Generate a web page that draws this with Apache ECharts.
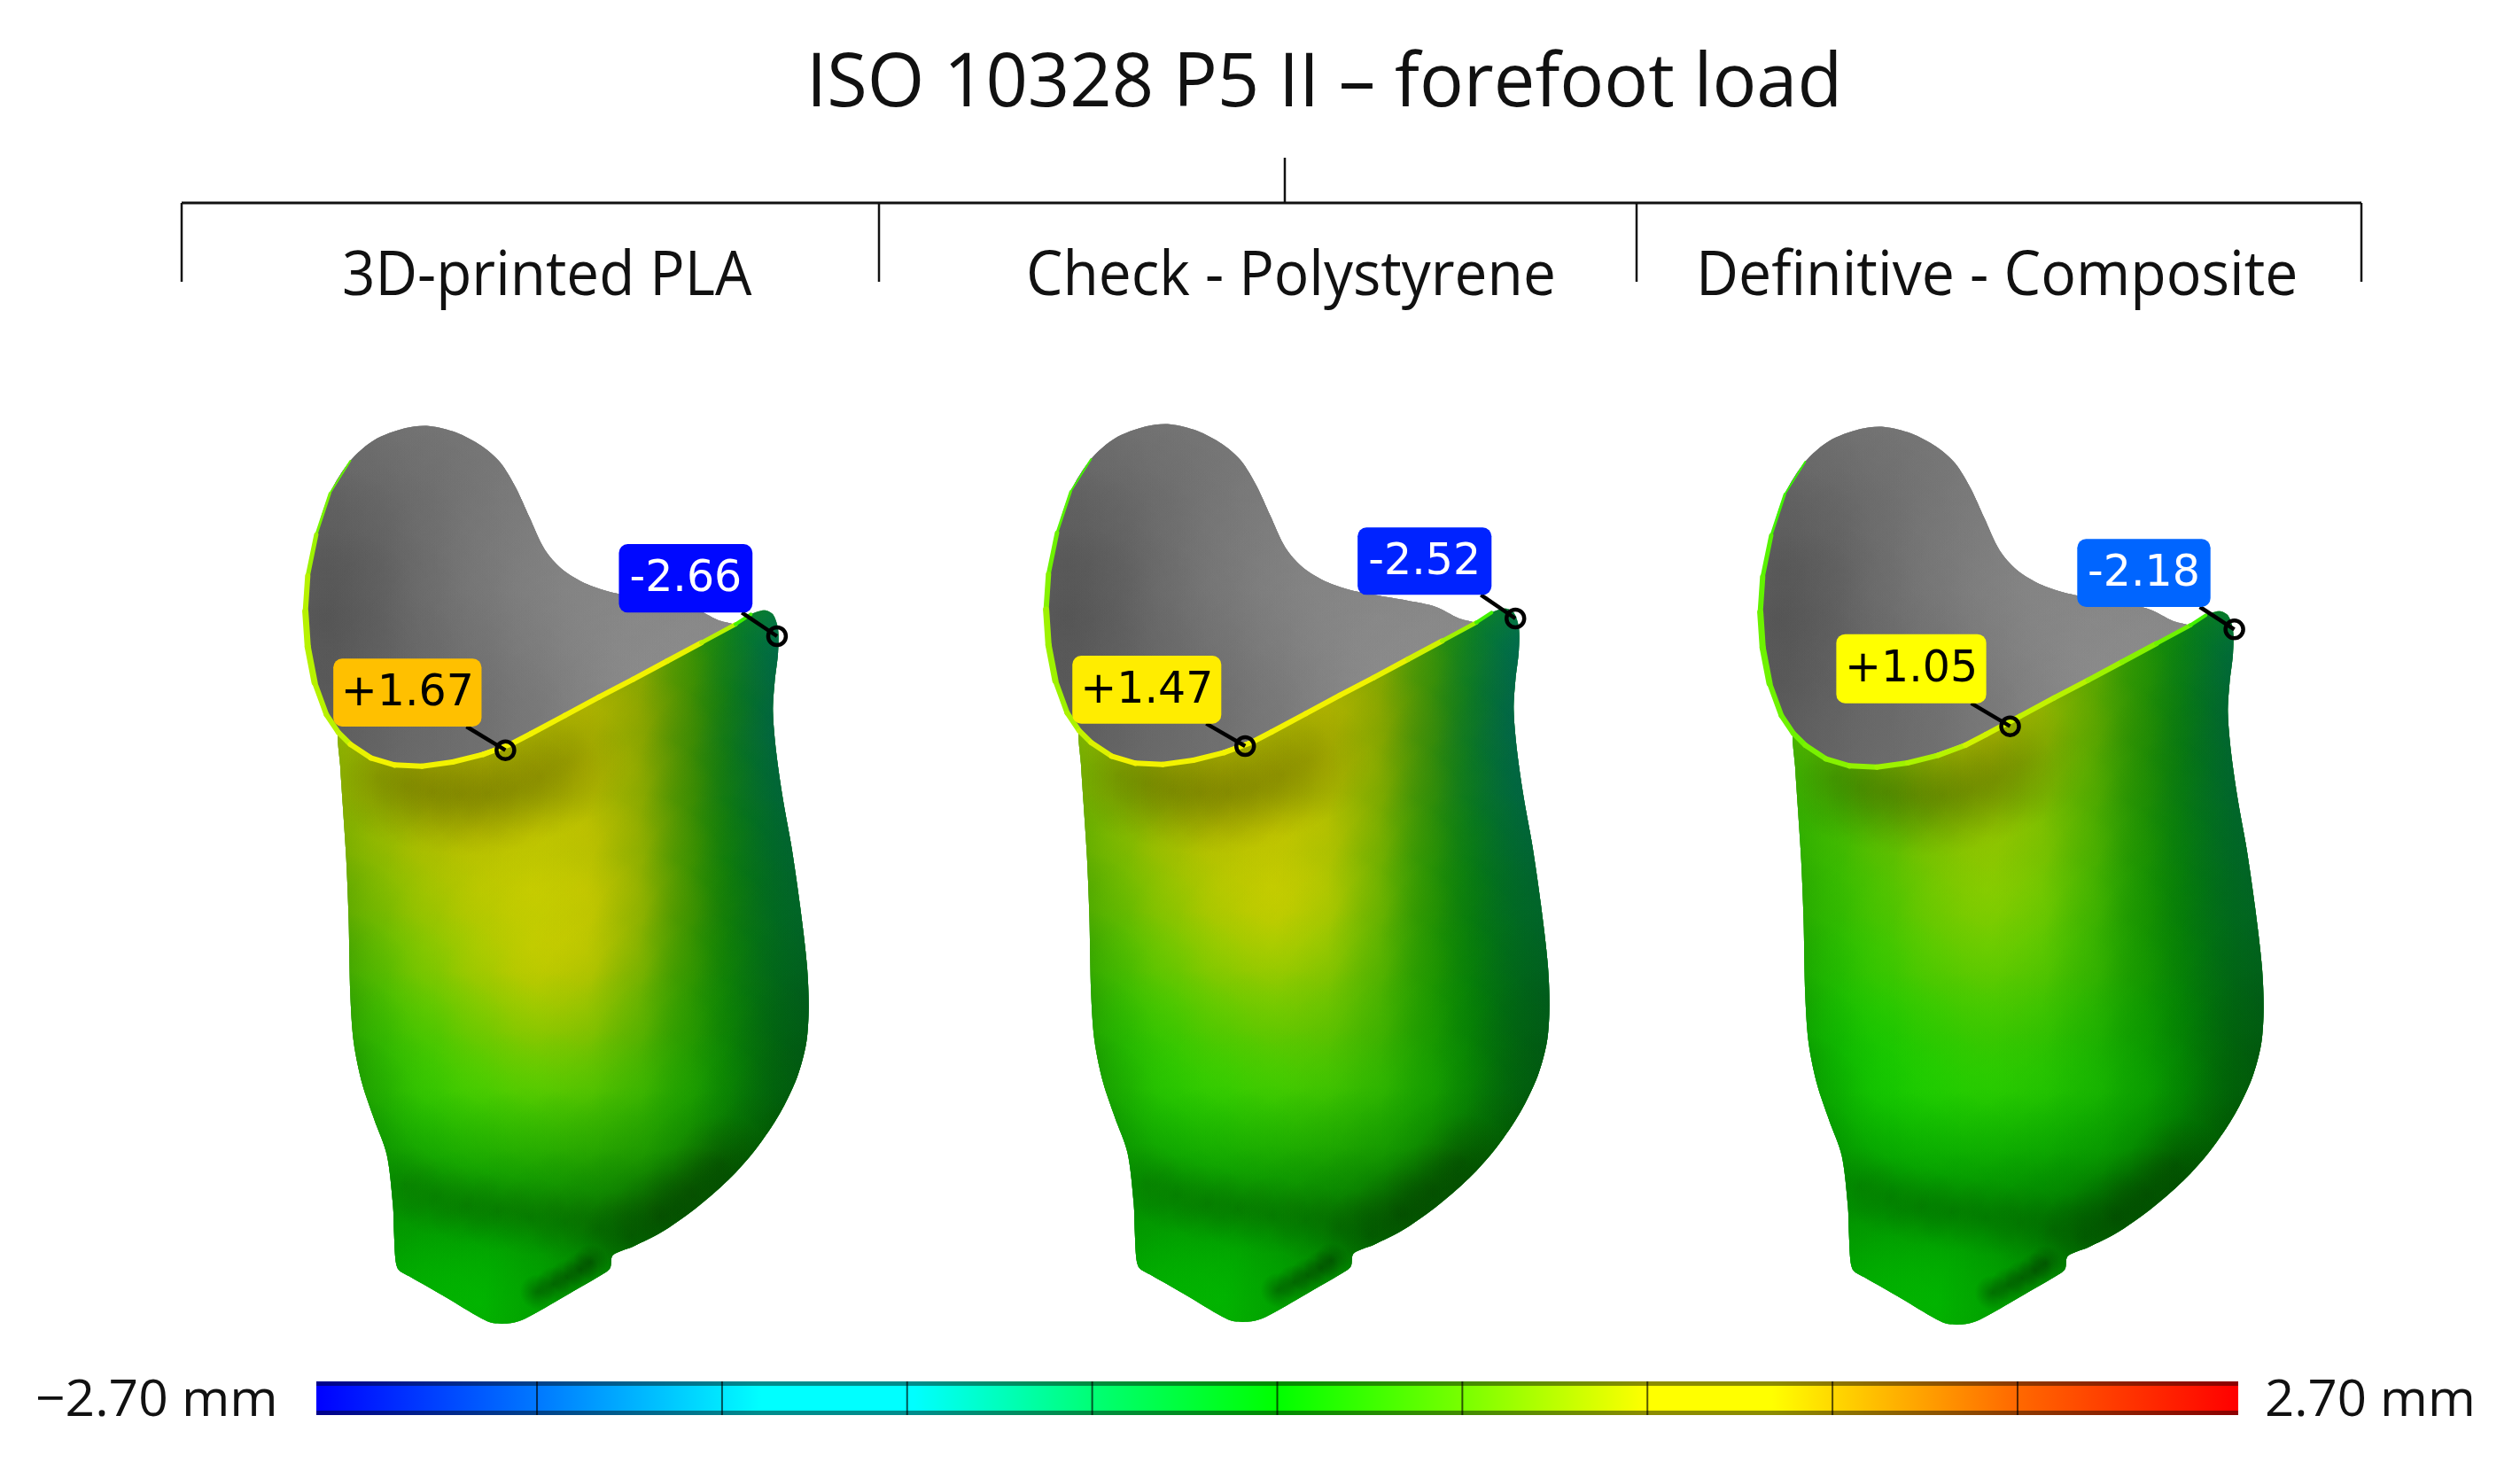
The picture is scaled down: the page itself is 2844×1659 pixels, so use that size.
<!DOCTYPE html>
<html>
<head>
<meta charset="utf-8">
<title>ISO 10328 P5 II - forefoot load</title>
<script src="https://cdn.jsdelivr.net/npm/echarts@6/dist/echarts.min.js"></script>
<style>
  html, body { margin: 0; padding: 0; background: #fff; }
  #main { width: 2844px; height: 1659px; }
</style>
</head>
<body>
<div id="main"></div>
<script>
// texts
var chartTitle = 'ISO 10328 P5 II – forefoot load';
var modelNames = ['3D-printed PLA', 'Check - Polystyrene', 'Definitive - Composite'];
var barMinText = '−2.70 mm';
var barMaxText = '2.70 mm';

// deviation scale, mm -> colour
var rampValues = [-2.7, -2.08, -1.45, -1.02, -0.5, 0, 0.52, 1.04, 1.39, 1.67, 2.07, 2.7];
var rampColors = ['#0000ff', '#0078ff', '#00ffff', '#00ffff', '#00ff70', '#00ff00', '#78ff00', '#ffff00', '#ffff00', '#ffc000', '#ff6a00', '#ff0000'];
var barTicks = [-2.08, -1.56, -1.04, -0.52, 0, 0.52, 1.04, 1.56, 2.08];

// socket shape, in the model axis units (0-1560 both ways)
var bodyOutline = [[135,535],[170,555],[230,578],[300,590],[380,592],[470,585],[560,572],[640,555],[700,537],[800,506],[900,475],[1000,445],[1100,414],[1200,383],[1300,352],[1345,335],[1385,328],[1410,335],[1425,360],[1425,400],[1415,450],[1410,500],[1420,570],[1440,650],[1465,730],[1490,830],[1510,930],[1515,1000],[1508,1060],[1480,1120],[1430,1180],[1360,1240],[1280,1292],[1180,1342],[1080,1382],[1000,1405],[940,1420],[932,1442],[905,1454],[800,1489],[684,1527],[641,1535],[590,1535],[555,1527],[450,1491],[347,1457],[312,1445],[303,1430],[298,1380],[295,1335],[277,1250],[240,1190],[205,1130],[180,1060],[170,980],[165,850],[158,750],[148,660],[140,590]];
var cupOutline = [[135,535],[100,505],[65,450],[45,390],[38,330],[45,270],[70,200],[110,130],[170,75],[240,40],[330,20],[400,16],[480,27],[555,50],[610,78],[655,120],[695,170],[740,225],[790,258],[850,280],[920,295],[1000,305],[1100,315],[1180,325],[1250,345],[1300,355],[1200,388],[800,512],[400,595],[250,585]];
var rimLine = [[170,75],[110,130],[70,200],[45,270],[38,330],[45,390],[65,450],[100,505],[135,535],[170,555],[230,578],[300,590],[380,592],[470,585],[560,572],[640,555],[700,537],[800,506],[900,475],[1000,445],[1100,414],[1200,383],[1300,352],[1345,335]];
var rimWidths = [2,3,5,6,7,7,6,6,6,6,6,6,6,6,6,6,6,6,6,6,6,5,4];

// sample positions of the surface readings
var sampleX = [100, 250, 400, 550, 700, 850, 1000, 1150, 1300, 1450, 1550];
var sampleY = [400, 500, 600, 700, 800, 900, 1000, 1100, 1200, 1300, 1400, 1500];
var cupY = [50, 150, 250, 350, 450, 550];

// deviation per model, mm
var devPLA = [
  [.8,.9,.9,1.0,1.0,1.0,.9,.6,-.1,-.9,-1],
  [.8,.9,1.05,1.2,1.25,1.2,1.05,.75,-.05,-.7,-1],
  [.85,.95,1.2,1.35,1.4,1.3,1.1,.7,-.1,-.7,-1],
  [.8,.9,1.05,1.2,1.2,1.15,1.05,.65,-.05,-.55,-.8],
  [.65,.75,.95,1.05,1.15,1.2,1.1,.65,0,-.4,-.7],
  [.5,.6,.8,.95,1.15,1.25,1.05,.6,.05,-.3,-.6],
  [.3,.4,.6,.8,1.0,1.05,.85,.45,.05,-.25,-.5],
  [.2,.25,.35,.5,.7,.75,.6,.35,.05,-.15,-.4],
  [.1,.2,.25,.35,.4,.45,.4,.25,.05,-.1,-.3],
  [0,.05,.1,.15,.2,.22,.22,.15,.05,0,0],
  [0,0,0,0,.02,.05,.05,.03,0,0,0],
  [0,0,0,0,0,0,0,0,0,0,0]
];
var devCheck = [
  [.8,.9,.95,1.0,1.0,1.0,.9,.6,-.2,-.9,-1.1],
  [.75,.85,1.0,1.1,1.15,1.2,1.15,.65,-.2,-.8,-1.1],
  [.7,.85,1.05,1.2,1.3,1.3,1.1,.6,-.25,-.8,-1.1],
  [.65,.75,.95,1.1,1.2,1.2,.95,.5,-.2,-.65,-.9],
  [.5,.65,.85,1.05,1.15,1.15,.85,.4,-.1,-.45,-.75],
  [.4,.5,.7,.9,1.05,1.0,.75,.35,-.05,-.35,-.6],
  [.25,.3,.5,.65,.8,.75,.6,.3,0,-.25,-.5],
  [.15,.2,.25,.4,.5,.55,.45,.25,0,-.15,-.4],
  [.1,.15,.2,.25,.3,.35,.3,.2,.05,-.1,-.3],
  [0,.03,.08,.1,.15,.15,.15,.1,.05,0,0],
  [0,0,0,0,.02,.03,.03,.02,0,0,0],
  [0,0,0,0,0,0,0,0,0,0,0]
];
var devComposite = [
  [.5,.6,.6,.7,.8,.8,.6,.35,-.1,-.6,-.9],
  [.5,.55,.7,.9,1.0,1.0,.75,.4,-.1,-.55,-.9],
  [.4,.5,.75,.95,1.05,.95,.7,.35,-.1,-.5,-.8],
  [.3,.35,.55,.75,.85,.8,.6,.3,-.1,-.45,-.7],
  [.25,.3,.45,.65,.8,.75,.55,.25,-.05,-.35,-.6],
  [.2,.25,.35,.55,.7,.65,.45,.2,0,-.3,-.5],
  [.1,.15,.25,.4,.5,.5,.35,.2,0,-.2,-.4],
  [.05,.08,.1,.2,.3,.3,.2,.1,0,-.1,-.3],
  [0,.05,.1,.15,.2,.2,.15,.1,0,-.05,-.2],
  [0,0,.03,.03,.05,.05,.03,.03,0,0,0],
  [0,0,0,0,0,0,0,0,0,0,0],
  [0,0,0,0,0,0,0,0,0,0,0]
];
// surface lighting, same for all three
var lighting = [
  [.8,.8,.8,.8,.8,.75,.7,.65,.5,.42,.4],
  [.75,.75,.75,.72,.72,.7,.68,.6,.48,.4,.35],
  [.72,.72,.7,.7,.72,.72,.7,.58,.46,.4,.35],
  [.68,.74,.74,.72,.76,.76,.72,.6,.46,.42,.35],
  [.6,.74,.76,.78,.8,.8,.74,.62,.48,.42,.35],
  [.55,.74,.78,.8,.82,.82,.76,.62,.48,.42,.36],
  [.5,.74,.8,.8,.8,.8,.74,.64,.5,.42,.32],
  [.45,.72,.8,.8,.8,.78,.74,.64,.52,.4,.3],
  [.4,.64,.8,.82,.82,.8,.74,.68,.54,.38,.3],
  [.42,.56,.64,.66,.66,.64,.6,.54,.42,.32,.3],
  [.5,.56,.58,.56,.54,.5,.44,.36,.32,.3,.3],
  [.6,.66,.7,.74,.7,.58,.55,.45,.3,.3,.3]
];
// grey level inside the socket
var cupGrey = [
  [108,112,116,118,120,122,125,130,130,130,130],
  [92,104,108,116,122,125,127,130,130,130,130],
  [84,94,106,118,126,130,132,132,132,132,132],
  [78,88,106,118,126,135,135,135,135,135,135],
  [80,90,104,110,122,130,140,140,140,140,140],
  [85,95,106,106,118,125,140,140,140,140,140]
];
// soft shadow tracks on the surface
var foldShade = [[250,610],[330,625],[410,635],[490,640],[570,640],[650,630],[730,610],[810,585]];
var waistShade = [[330,1300],[420,1320],[510,1335],[600,1345],[700,1355],[800,1365],[900,1375]];
var edgeShade = [[1260,1265],[1170,1315],[1080,1355],[990,1390]];
var creaseShade = [[719,1482],[765,1469],[806,1457],[845,1444],[875,1432]];
// deviation along the rim, one list per model
var rimPLA = [.45,.55,.7,.8,.8,.8,.8,.8,.85,1,1.05,1.1,1.1,1.2,1.25,1.3,1.25,1.2,1.15,1.1,1,.8,.3,.1];
var rimCheck = [.3,.4,.5,.6,.7,.7,.7,.75,.85,.95,1.05,1.1,1.1,1.15,1.2,1.2,1.2,1.15,1.1,1,.9,.7,.3,.1];
var rimComposite = [.25,.3,.4,.45,.5,.5,.5,.5,.5,.55,.6,.65,.7,.75,.8,.9,.9,.85,.8,.7,.6,.5,.3,.1];

// callouts: peak values, where they point, label box
var peakValues = [[1.67, -2.66], [1.47, -2.52], [1.05, -2.18]];
var peakAnchors = [[[625,565],[1422,372]], [[622,561],[1415,345]], [[771,523],[1429,359]]];
var peakBoxes = [[[120,410,555,525],[958,216,1350,332]], [[115,408,552,523],[952,191,1345,305]], [[261,367,701,484],[968,206,1359,321]]];

var modelDev = [devPLA, devCheck, devComposite];
var modelRim = [rimPLA, rimCheck, rimComposite];
var modelBox = [[330, 470], [1166, 468], [1972, 471]];

function hexToRgb(h) {
  return [parseInt(h.slice(1, 3), 16), parseInt(h.slice(3, 5), 16), parseInt(h.slice(5, 7), 16)];
}
function rampRgb(v) {
  var i = 0;
  while (i < rampValues.length - 2 && v > rampValues[i + 1]) i++;
  var t = (v - rampValues[i]) / (rampValues[i + 1] - rampValues[i]);
  t = Math.max(0, Math.min(1, t));
  var a = hexToRgb(rampColors[i]), b = hexToRgb(rampColors[i + 1]);
  return [a[0] + (b[0] - a[0]) * t, a[1] + (b[1] - a[1]) * t, a[2] + (b[2] - a[2]) * t];
}
function rgbaStr(c, k, alpha) {
  return 'rgba(' + Math.round(c[0] * k) + ',' + Math.round(c[1] * k) + ',' + Math.round(c[2] * k) + ',' + alpha + ')';
}
function toPixels(api, pts) {
  return pts.map(function (p) { return api.coord(p); });
}

// soft blob for one reading, cut to the shape
function splatSeries(gridIdx, outline, data, r, alpha) {
  return {
    type: 'custom',
    xAxisIndex: gridIdx,
    yAxisIndex: gridIdx,
    silent: true,
    clip: false,
    data: data,
    renderItem: function (params, api) {
      var p = api.coord([api.value(0), api.value(1)]);
      var rgb = [api.value(2), api.value(3), api.value(4)];
      return {
        type: 'circle',
        shape: { cx: p[0], cy: p[1], r: r },
        style: {
          fill: new echarts.graphic.RadialGradient(0.5, 0.5, 0.5, [
            { offset: 0, color: rgbaStr(rgb, 1, alpha) },
            { offset: 0.5, color: rgbaStr(rgb, 1, alpha / 2) },
            { offset: 1, color: rgbaStr(rgb, 1, 0) }
          ])
        },
        clipPath: { type: 'polygon', shape: { points: toPixels(api, outline), smooth: 0.3 } }
      };
    }
  };
}
function shadeData(track) {
  return track.map(function (p) { return [p[0], p[1], 0, 0, 0]; });
}
function baseSeries(gridIdx, outline, color) {
  return {
    type: 'custom',
    xAxisIndex: gridIdx,
    yAxisIndex: gridIdx,
    silent: true,
    clip: false,
    data: [[0, 0]],
    renderItem: function (params, api) {
      return { type: 'polygon', shape: { points: toPixels(api, outline), smooth: 0.3 }, style: { fill: color } };
    }
  };
}
function rimSeries(gridIdx, rim) {
  return {
    type: 'custom',
    xAxisIndex: gridIdx,
    yAxisIndex: gridIdx,
    silent: true,
    clip: false,
    data: rimLine.slice(0, -1).map(function (p, i) { return [p[0], p[1], rimLine[i + 1][0], rimLine[i + 1][1], rim[i], rimWidths[i]]; }),
    renderItem: function (params, api) {
      var a = api.coord([api.value(0), api.value(1)]);
      var b = api.coord([api.value(2), api.value(3)]);
      return {
        type: 'line',
        shape: { x1: a[0], y1: a[1], x2: b[0], y2: b[1] },
        style: { stroke: rgbaStr(rampRgb(api.value(4)), 0.95, 1), lineWidth: api.value(5), lineCap: 'round' }
      };
    }
  };
}
function peakSeries(gridIdx) {
  var data = peakValues[gridIdx].map(function (v, i) {
    var a = peakAnchors[gridIdx][i], b = peakBoxes[gridIdx][i];
    return [a[0], a[1], b[0], b[1], b[2], b[3], v];
  });
  return {
    type: 'custom',
    xAxisIndex: gridIdx,
    yAxisIndex: gridIdx,
    silent: true,
    clip: false,
    z: 10,
    data: data,
    renderItem: function (params, api) {
      var a = api.coord([api.value(0), api.value(1)]);
      var tl = api.coord([api.value(2), api.value(3)]);
      var br = api.coord([api.value(4), api.value(5)]);
      var v = api.value(6);
      var c = v > 0 ? { x: br[0] - 17, y: br[1] } : { x: br[0] - 12, y: br[1] };
      var txt = (v > 0 ? '+' : '-') + Math.abs(v).toFixed(2);
      return {
        type: 'group',
        children: [
          { type: 'line', shape: { x1: c.x, y1: c.y, x2: a[0], y2: a[1] }, style: { stroke: '#000', lineWidth: 4.5 } },
          { type: 'circle', shape: { cx: a[0], cy: a[1], r: 10 }, style: { fill: 'rgba(0,0,0,0)', stroke: '#000', lineWidth: 4.5 } },
          {
            type: 'rect',
            shape: { x: tl[0], y: tl[1], width: br[0] - tl[0], height: br[1] - tl[1], r: 10 },
            style: { fill: rgbaStr(rampRgb(v), 1, 1) }
          },
          {
            type: 'text',
            x: (tl[0] + br[0]) / 2,
            y: (tl[1] + br[1]) / 2 + 2,
            style: {
              text: txt,
              fontFamily: 'DejaVu Sans',
              fontSize: 49,
              fill: v > 0 ? '#000' : '#fff',
              align: 'center',
              verticalAlign: 'middle'
            }
          }
        ]
      };
    }
  };
}

var grids = [], xAxes = [], yAxes = [], series = [];
modelBox.forEach(function (b, m) {
  grids.push({ left: b[0], top: b[1], width: 600, height: 1040 });
  xAxes.push({ type: 'value', gridIndex: m, min: 0, max: 1560, show: false });
  yAxes.push({ type: 'value', gridIndex: m, min: 0, max: 1560, inverse: true, show: false });

  var cupData = [];
  cupGrey.forEach(function (row, r) {
    row.forEach(function (g, c) { cupData.push([sampleX[c], cupY[r], g, g, g]); });
  });
  var bodyData = [];
  modelDev[m].forEach(function (row, r) {
    row.forEach(function (d, c) {
      var rgb = rampRgb(d), k = lighting[r][c];
      bodyData.push([sampleX[c], sampleY[r], rgb[0] * k, rgb[1] * k, rgb[2] * k]);
    });
  });
  series.push(baseSeries(m, cupOutline, '#777777'));
  series.push(splatSeries(m, cupOutline, cupData, 110, 0.72));
  series.push(baseSeries(m, bodyOutline, '#109000'));
  series.push(splatSeries(m, bodyOutline, bodyData, 110, 0.72));
  series.push(splatSeries(m, bodyOutline, shadeData(foldShade), 70, 0.12));
  series.push(splatSeries(m, bodyOutline, shadeData(waistShade), 45, 0.12));
  series.push(splatSeries(m, bodyOutline, shadeData(edgeShade), 55, 0.2));
  series.push(splatSeries(m, bodyOutline, shadeData(creaseShade), 20, 0.3));
  series.push(rimSeries(m, modelRim[m]));
  series.push(peakSeries(m));
});

// colour bar on its own axis
grids.push({ left: 357, top: 1559, width: 2169, height: 38 });
xAxes.push({ type: 'value', gridIndex: 3, min: -2.7, max: 2.7, show: false });
yAxes.push({ type: 'value', gridIndex: 3, min: 0, max: 1, show: false });
var barStops = rampValues.map(function (v, i) { return { offset: (v + 2.7) / 5.4, color: rampColors[i] }; });
series.push({
  type: 'custom',
  xAxisIndex: 3,
  yAxisIndex: 3,
  silent: true,
  clip: false,
  data: [[-2.7, 2.7]],
  renderItem: function (params, api) {
    var a = api.coord([api.value(0), 1]);
    var b = api.coord([api.value(1), 0]);
    var w = b[0] - a[0], h = b[1] - a[1];
    return {
      type: 'group',
      children: [
        { type: 'rect', shape: { x: a[0], y: a[1], width: w, height: h }, style: { fill: new echarts.graphic.LinearGradient(0, 0, 1, 0, barStops) } },
        { type: 'rect', shape: { x: a[0], y: a[1], width: w, height: 5 }, style: { fill: 'rgba(0,0,0,0.45)' } },
        { type: 'rect', shape: { x: a[0], y: b[1] - 5, width: w, height: 5 }, style: { fill: 'rgba(0,0,0,0.45)' } }
      ]
    };
  }
});
series.push({
  type: 'custom',
  xAxisIndex: 3,
  yAxisIndex: 3,
  silent: true,
  clip: false,
  data: barTicks.map(function (t) { return [t]; }),
  renderItem: function (params, api) {
    var a = api.coord([api.value(0), 1]);
    var b = api.coord([api.value(0), 0]);
    return { type: 'line', shape: { x1: a[0], y1: a[1], x2: b[0], y2: b[1] }, style: { stroke: 'rgba(0,0,0,0.65)', lineWidth: 2 } };
  }
});

function label(text, x, y, size, sx) {
  return {
    type: 'text', x: x, y: y, scaleX: sx,
    style: { text: text, fontFamily: 'Open Sans', fontSize: size, fill: '#111', align: 'left', verticalAlign: 'bottom' }
  };
}
function rule(x1, y1, x2, y2, w) {
  return { type: 'line', shape: { x1: x1, y1: y1, x2: x2, y2: y2 }, style: { stroke: '#111', lineWidth: w } };
}

var chart = echarts.init(document.getElementById('main'), null, { renderer: 'canvas' });
chart.setOption({
  animation: false,
  backgroundColor: '#fff',
  grid: grids,
  xAxis: xAxes,
  yAxis: yAxes,
  series: series,
  graphic: [
    label(chartTitle, 910, 138, 85, 0.977),
    label(modelNames[0], 386, 348, 70, 0.937),
    label(modelNames[1], 1158, 348, 70, 0.94),
    label(modelNames[2], 1914, 348, 70, 0.945),
    label(barMinText, 40, 1610, 57, 1.03),
    label(barMaxText, 2556, 1610, 57, 1.02),
    rule(205, 229, 2665, 229, 3),
    rule(1450, 178, 1450, 229, 2.5),
    rule(205, 229, 205, 318, 2.5),
    rule(992, 229, 992, 318, 2.5),
    rule(1847, 229, 1847, 318, 2.5),
    rule(2665, 229, 2665, 318, 2.5)
  ]
});
</script>
</body>
</html>
